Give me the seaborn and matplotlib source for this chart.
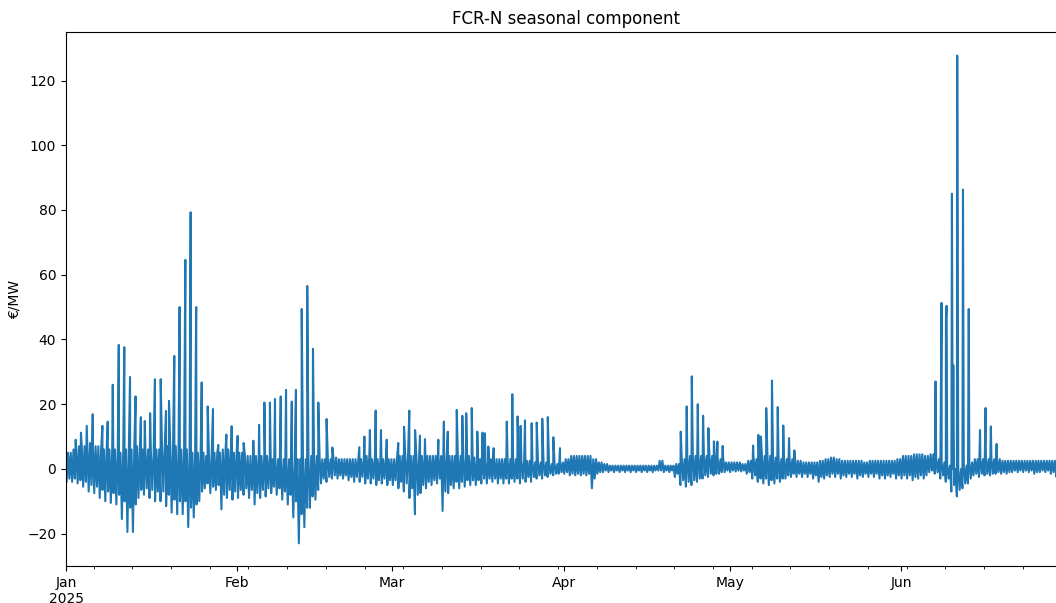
import pandas as pd
import matplotlib
matplotlib.use("Agg")
import matplotlib.pyplot as plt
import matplotlib.dates as mdates
from matplotlib.ticker import NullFormatter
import seaborn as sns

# Daily envelope of the seasonal component (EUR/MW), 1 Jan .. 30 Jun 2025
start = "2025-01-01"
n_days = 181

# night trough
band_low = [
    # January
    -4, -4, -4.5, -5.5, -7, -7.5, -9, -10, -10.5, -11, -15.5, -19.5, -19.5, -9, -8, -9,
    -10, -10, -11.5, -13.5, -14, -14, -18, -15, -10, -6, -7.5, -6.5, -12.5, -9, -9.5,
    # February
    -9, -8, -9, -11, -9, -8.5, -7.5, -8, -9.5, -11, -15, -23, -18, -12,
    -9.5, -4.5, -4, -3, -3, -3, -3.5, -4, -4, -4.5, -4.5, -5, -4.5, -5,
    # March
    -5, -6, -7, -9, -14, -7.5, -6, -5, -4.5, -13, -7.5, -6, -6, -5.5, -5, -5,
    -4.5, -4.5, -4, -4.5, -4.5, -4.5, -4, -4.5, -4, -4, -3, -3, -2.5, -2, -1.5,
    # April
    -1.5, -2, -2, -2, -2, -6, -1.5, -1, -1, -1, -1, -1, -1, -1, -1,
    -1, -1, -0.5, -1, -1, -2.5, -5, -5.5, -5, -4, -3, -2.5, -2, -1.5, -1,
    # May
    -1, -0.8, -0.8, -1.5, -3, -4, -4.5, -5, -4.5, -4, -3, -2.5, -2.5, -2.5, -2.5, -3,
    -4, -3, -2.5, -2.5, -3, -2.5, -2.5, -3, -2.5, -2.5, -2.5, -3, -3, -2.5, -3,
    # June
    -3, -3, -3.5, -3, -3, -1, -1.5, -3, -4, -7, -8.5, -6, -4.5, -2, -2.5,
    -2, -2, -1.5, -1.5, -1.5, -1, -1, -1, -1, -1.5, -1, -1, -1.5, -2.5, -2,
]

# afternoon trough
band_mid = [
    # January
    -3, -3, -3.5, -4, -5, -5.5, -6.5, -7, -7.5, -8, -10, -12, -11, -6.5, -6, -6.5,
    -7, -7, -8, -9.5, -10, -10, -12, -11, -7, -4.5, -5.5, -5, -8, -6.5, -7,
    # February
    -6.5, -6, -6.5, -7.5, -6.5, -6, -5.5, -6, -7, -8, -10, -14, -12, -8.5,
    -6.5, -3, -2.5, -2, -2, -2, -2.5, -2.5, -2.5, -3, -3, -3.5, -3, -3.5,
    # March
    -3.5, -4, -4.5, -6, -8, -5, -4, -3.5, -3, -7, -5, -4, -4, -3.5, -3.5, -3.5,
    -3, -3, -3, -3, -3, -3, -3, -3, -2.5, -2.5, -2, -2, -1.5, -1.5, -1,
    # April
    -1, -1.5, -1.5, -1.5, -1.5, -3, -1, -0.5, -0.5, -0.5,
    -0.5, -0.5, -0.5, -0.5, -0.5, -0.5, -0.5, -0.5, -0.5, -0.5,
    -1.5, -3.5, -4, -3.5, -3, -2, -1.5, -1.5, -1, -0.5,
    # May
    -0.5, -0.5, -0.5, -1, -2, -3, -3, -3.5, -3, -3, -2, -1.5, -1.5, -1.5, -1.5, -2,
    -2.5, -2, -1.5, -1.5, -2, -1.5, -1.5, -2, -1.5, -1.5, -1.5, -2, -2, -1.5, -2,
    # June
    -2, -2, -2.5, -2, -2, -0.5, -1, -2, -3, -5, -6.5, -4.5, -3, -1.5, -1.5,
    -1.5, -1.5, -1, -1, -1, -0.5, -0.5, -0.5, -0.5, -1, -0.5, -0.5, -1, -1.5, -1.5,
]

# morning / evening crest
band_high = [
    # January
    5, 6, 7, 7, 8, 7, 6, 6, 6, 5, 6, 6, 7, 6, 6, 5,
    6, 7, 7, 7, 6, 6, 5, 5, 5, 4, 5, 5, 6, 6, 5,
    # February
    5, 4, 4, 4, 4, 4, 3, 3, 3, 3, 3, 3, 3, 4,
    4, 3, 3, 3.5, 3, 3, 3, 3, 3, 4, 3, 3, 3, 3,
    # March
    3, 4, 4, 4, 4, 4, 4, 4, 4, 5, 4, 4, 4, 4, 3.5, 3,
    3, 3, 3, 3, 3, 3, 3, 2.5, 2.5, 2, 2, 2, 1.5, 1.5, 2,
    # April
    3, 4, 4, 4, 4, 3, 2, 1.5, 1, 1, 1, 1, 1, 1, 1,
    1, 1, 2.5, 1, 1, 1.5, 3, 4, 4, 4, 4, 4, 3, 3, 2,
    # May
    2, 2, 1.5, 2.5, 3, 4, 4, 4, 3.5, 3, 3, 3, 2.5, 2, 2, 2,
    2.5, 3, 3.5, 3, 2.5, 2.5, 2.5, 2.5, 2, 2.5, 2.5, 2.5, 2.5, 2.5, 3,
    # June
    4, 4, 4.5, 4.5, 4, 4.5, 3, 2, 1, 0, 0, 1, 2, 3, 3,
    3, 3, 3, 2.5, 2.5, 2.5, 2.5, 2.5, 2.5, 2.5, 2.5, 2.5, 2.5, 2.5, 2,
]

# Hourly price peaks standing above the daily band
spike_times = [
    "2025-01-02 18:00", "2025-01-03 17:00", "2025-01-04 18:00", "2025-01-05 20:00",
    "2025-01-07 14:00", "2025-01-08 13:00", "2025-01-09 11:00", "2025-01-10 13:00",
    "2025-01-11 13:00", "2025-01-12 14:00", "2025-01-13 14:00", "2025-01-14 13:00",
    "2025-01-15 06:00", "2025-01-16 05:00", "2025-01-17 02:00", "2025-01-18 03:00",
    "2025-01-19 02:00", "2025-01-19 15:00", "2025-01-20 14:00", "2025-01-21 13:00",
    "2025-01-22 14:00", "2025-01-23 13:00", "2025-01-24 13:00", "2025-01-25 13:00",
    "2025-01-26 15:00", "2025-01-27 14:00", "2025-01-28 13:00", "2025-01-30 00:00",
    "2025-01-30 23:00", "2025-02-01 01:00", "2025-02-02 03:00", "2025-02-03 21:00",
    "2025-02-04 22:00", "2025-02-05 21:00", "2025-02-06 21:00", "2025-02-07 19:00",
    "2025-02-08 20:00", "2025-02-09 19:00", "2025-02-10 20:00", "2025-02-11 14:00",
    "2025-02-12 15:00", "2025-02-13 15:00", "2025-02-14 16:00", "2025-02-15 15:00",
    "2025-02-17 03:00", "2025-02-18 04:00", "2025-02-23 01:00", "2025-02-23 23:00",
    "2025-02-24 23:00", "2025-02-26 00:00", "2025-02-26 23:00", "2025-02-28 00:00",
    "2025-03-02 02:00", "2025-03-03 03:00", "2025-03-04 02:00", "2025-03-05 03:00",
    "2025-03-06 00:00", "2025-03-06 22:00", "2025-03-09 08:00", "2025-03-10 08:00",
    "2025-03-11 01:00", "2025-03-12 16:00", "2025-03-13 16:00", "2025-03-14 09:00",
    "2025-03-15 09:00", "2025-03-16 09:00", "2025-03-17 08:00", "2025-03-17 18:00",
    "2025-03-18 09:00", "2025-03-19 08:00", "2025-03-21 17:00", "2025-03-22 17:00",
    "2025-03-23 16:00", "2025-03-24 05:00", "2025-03-25 00:00", "2025-03-26 05:00",
    "2025-03-27 03:00", "2025-03-28 03:00", "2025-03-29 03:00", "2025-03-30 03:00",
    "2025-03-31 08:00", "2025-04-22 04:00", "2025-04-23 06:00", "2025-04-24 04:00",
    "2025-04-25 06:00", "2025-04-26 05:00", "2025-04-27 04:00", "2025-04-28 04:00",
    "2025-04-28 19:00", "2025-04-29 18:00", "2025-05-05 06:00", "2025-05-06 05:00",
    "2025-05-06 16:00", "2025-05-07 15:00", "2025-05-08 16:00", "2025-05-09 17:00",
    "2025-05-10 17:00", "2025-05-11 18:00", "2025-05-12 17:00", "2025-06-07 06:00",
    "2025-06-08 08:00", "2025-06-09 03:00", "2025-06-09 06:00", "2025-06-10 05:00",
    "2025-06-10 11:00", "2025-06-11 04:00", "2025-06-12 05:00", "2025-06-13 06:00",
    "2025-06-15 07:00", "2025-06-16 07:00", "2025-06-17 06:00", "2025-06-18 07:00",
]
spike_values = [
    9.0, 11.2, 13.3, 16.9,
    13.3, 14.6, 26.0, 38.3,
    37.6, 28.4, 22.4, 16.0,
    14.8, 17.2, 27.7, 27.7,
    17.9, 21.0, 34.9, 50.0,
    64.6, 79.3, 50.0, 26.7,
    19.3, 18.5, 7.4, 10.6,
    13.2, 10.2, 8.0, 8.7,
    13.6, 20.5, 20.5, 21.6,
    22.4, 24.4, 20.8, 24.4,
    49.4, 56.5, 37.1, 20.5,
    15.4, 6.6, 6.7, 10.0,
    12.0, 18.0, 12.0, 9.0,
    8.0, 13.0, 18.0, 12.0,
    10.3, 9.2, 9.0, 14.6,
    11.5, 18.2, 16.4, 17.2,
    18.8, 11.5, 11.2, 11.0,
    6.9, 6.4, 14.6, 23.1,
    16.2, 13.3, 15.0, 14.1,
    14.3, 15.5, 16.0, 9.8,
    6.4, 11.5, 19.3, 28.6,
    20.0, 16.4, 12.6, 8.5,
    8.4, 7.1, 7.2, 10.5,
    10.0, 18.8, 27.3, 19.1,
    13.4, 9.5, 5.7, 27.0,
    51.3, 46.6, 50.4, 85.0,
    32.0, 127.7, 86.3, 49.4,
    12.0, 18.8, 13.1, 7.7,
]

month_labels = ["Jan\n2025", "Feb", "Mar", "Apr", "May", "Jun"]

# One time-ordered series: night trough, morning crest, afternoon trough,
# evening crest for every day, plus the hourly peaks
days = pd.date_range(start, periods=n_days, freq="D")
hour = lambda h: pd.Timedelta(hours=h, minutes=30)
series = pd.concat([
    pd.DataFrame({"time": days + hour(2), "value": band_low}),
    pd.DataFrame({"time": days + hour(8), "value": band_high}),
    pd.DataFrame({"time": days + hour(14), "value": band_mid}),
    pd.DataFrame({"time": days + hour(20), "value": band_high}),
    pd.DataFrame({"time": pd.to_datetime(spike_times), "value": spike_values}),
]).sort_values("time").reset_index(drop=True)

fig = plt.figure(figsize=(10.56, 6.03), dpi=100)
ax = fig.add_axes([0.0625, 0.0614, 0.9476, 0.8856])

sns.lineplot(data=series, x="time", y="value", ax=ax, color="#1f77b4",
             linewidth=1.5, estimator=None, sort=True)

ax.set_xlim(pd.Timestamp("2025-01-01 00:00"), pd.Timestamp("2025-06-30 23:00"))
ax.set_ylim(-30, 135)
ax.set_yticks(range(-20, 121, 20))

month_starts = pd.date_range(start, periods=len(month_labels), freq="MS")
ax.set_xticks(month_starts)
ax.set_xticklabels(month_labels)
ax.xaxis.set_minor_locator(mdates.WeekdayLocator(byweekday=mdates.MO))
ax.xaxis.set_minor_formatter(NullFormatter())
for lbl in ax.get_xticklabels():
    lbl.set_horizontalalignment("center")

ax.set_title("FCR-N seasonal component")
ax.set_xlabel("")
ax.set_ylabel("€/MW")

fig.savefig("out.png", dpi=100)
